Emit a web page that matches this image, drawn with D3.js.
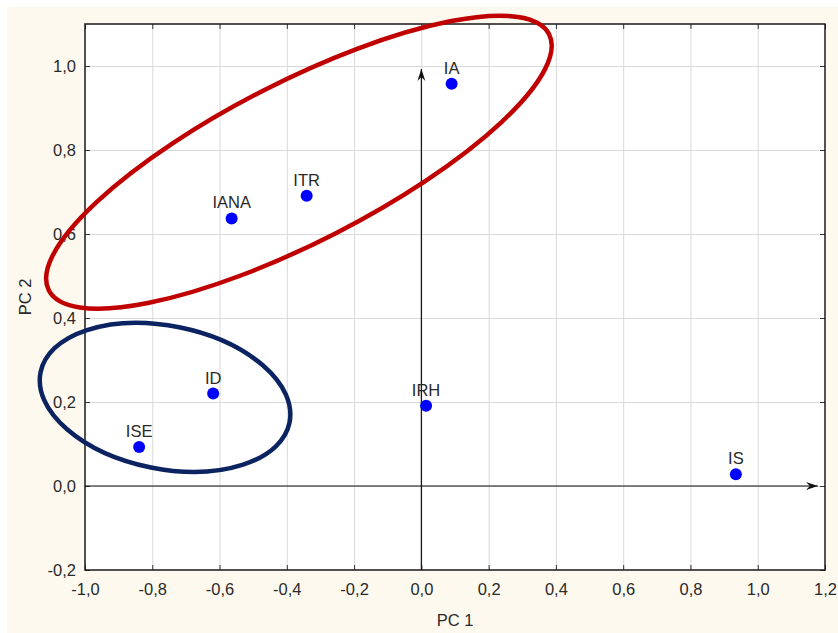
<!DOCTYPE html>
<html>
<head>
<meta charset="utf-8">
<script src="https://cdn.jsdelivr.net/npm/d3@7"></script>
<style>
  html, body { margin: 0; padding: 0; background: #ffffff; }
  svg { display: block; }
  text { font-family: "Liberation Sans", Arial, sans-serif; }
</style>
</head>
<body>
<svg id="chart" width="838" height="633"></svg>
<script>
// PCA loadings: variable names and their PC1 / PC2 coordinates
const variables = ["IA", "ITR", "IANA", "ID", "ISE", "IRH", "IS"];
const pc1 = [0.090, -0.341, -0.564, -0.619, -0.839, 0.014, 0.935];
const pc2 = [0.958, 0.691, 0.637, 0.220, 0.093, 0.191, 0.028];

const xTicks = [-1.0, -0.8, -0.6, -0.4, -0.2, 0.0, 0.2, 0.4, 0.6, 0.8, 1.0, 1.2];
const yTicks = [-0.2, 0.0, 0.2, 0.4, 0.6, 0.8, 1.0];

// Group outlines (centres in PC units)
const groupNames = ["upper", "lower"];
const groupPc1 = [-0.364, -0.762];
const groupPc2 = [0.771, 0.211];

const W = 838, H = 633;
const margin = { left: 85, right: 13, top: 24, bottom: 63 };
const fmt = v => d3.format(".1f")(v).replace("−", "-").replace(".", ",");
const textColor = "#2a2a2a";

const svg = d3.select("#chart");

// Cream page background with a thin white edge
svg.append("rect").attr("x", 0).attr("y", 0).attr("width", W).attr("height", H).attr("fill", "#ffffff");
svg.append("rect").attr("x", 7).attr("y", 7).attr("width", W - 7).attr("height", H - 7).attr("fill", "#fdf9ef");

const x = d3.scaleLinear().domain([-1.0, 1.2]).range([margin.left, W - margin.right]);
const y = d3.scaleLinear().domain([-0.2, 1.1]).range([H - margin.bottom, margin.top]);

const x0 = x.range()[0], x1 = x.range()[1];
const y0 = y.range()[0], y1 = y.range()[1];

// Plot area
svg.append("rect")
  .attr("x", x0).attr("y", y1).attr("width", x1 - x0).attr("height", y0 - y1)
  .attr("fill", "#ffffff");

// Grid
const grid = svg.append("g").attr("stroke", "#d9d9d9").attr("stroke-width", 1);
grid.selectAll("line.vx").data(xTicks.slice(1, -1)).join("line")
  .attr("x1", d => x(d) + 0.5).attr("x2", d => x(d) + 0.5)
  .attr("y1", y1).attr("y2", y0);
grid.selectAll("line.hy").data(yTicks.slice(1)).join("line")
  .attr("x1", x0).attr("x2", x1)
  .attr("y1", d => Math.round(y(d)) + 0.5).attr("y2", d => Math.round(y(d)) + 0.5);

// Axes with inward ticks and labels
const bottomAxis = d3.axisBottom(x).tickValues(xTicks).tickSize(-5).tickPadding(13).tickFormat(fmt);
const leftAxis = d3.axisLeft(y).tickValues(yTicks).tickSize(-5).tickPadding(9).tickFormat(fmt);
const topAxis = d3.axisTop(x).tickValues(xTicks).tickSize(-5).tickFormat("");
const rightAxis = d3.axisRight(y).tickValues(yTicks).tickSize(-5).tickFormat("");

function styleAxis(g) {
  g.select(".domain").remove();
  g.selectAll(".tick line").attr("stroke", "#333").attr("stroke-width", 1);
  g.selectAll(".tick text").attr("fill", textColor).attr("font-size", 16.5);
}
svg.append("g").attr("transform", `translate(0,${y0})`).call(bottomAxis).call(styleAxis);
svg.append("g").attr("transform", `translate(${x0},0)`).call(leftAxis).call(styleAxis);
svg.append("g").attr("transform", `translate(0,${y1})`).call(topAxis).call(styleAxis);
svg.append("g").attr("transform", `translate(${x1},0)`).call(rightAxis).call(styleAxis);

// Frame
svg.append("rect")
  .attr("x", x0).attr("y", y1).attr("width", x1 - x0).attr("height", y0 - y1)
  .attr("fill", "none").attr("stroke", "#1a1a1a").attr("stroke-width", 1.5);

// Axis titles
svg.append("text")
  .attr("x", (x0 + x1) / 2).attr("y", 626)
  .attr("text-anchor", "middle").attr("font-size", 16.5).attr("fill", textColor)
  .text("PC 1");
svg.append("text")
  .attr("transform", `translate(31,${(y0 + y1) / 2}) rotate(-90)`)
  .attr("text-anchor", "middle").attr("font-size", 16.5).attr("fill", textColor)
  .text("PC 2");

// Arrowhead marker
const defs = svg.append("defs");
defs.append("marker")
  .attr("id", "arrow").attr("viewBox", "-12 -5 14 10")
  .attr("refX", 0).attr("refY", 0)
  .attr("markerWidth", 14).attr("markerHeight", 10)
  .attr("markerUnits", "userSpaceOnUse")
  .attr("orient", "auto")
  .append("path").attr("d", "M0,0 L-12,-4 L-8,0 L-12,4 Z").attr("fill", "#111");

// Component axes through the origin
svg.append("line")
  .attr("x1", x(-1.0)).attr("y1", y(0)).attr("x2", x(1.179)).attr("y2", y(0))
  .attr("stroke", "#111").attr("stroke-width", 1.2).attr("marker-end", "url(#arrow)");
svg.append("line")
  .attr("x1", x(0)).attr("y1", y(-0.2)).attr("x2", x(0)).attr("y2", y(0.993))
  .attr("stroke", "#111").attr("stroke-width", 1.2).attr("marker-end", "url(#arrow)");

// Group outlines
const outlines = [
  { rx: 281, ry: 80, angle: -27.1, color: "#c00000" },
  { rx: 127, ry: 71.5, angle: 11.4, color: "#0b2461" }
];
svg.append("g").selectAll("ellipse").data(groupNames).join("ellipse")
  .attr("cx", 0).attr("cy", 0)
  .attr("rx", (d, i) => outlines[i].rx).attr("ry", (d, i) => outlines[i].ry)
  .attr("transform", (d, i) => `translate(${x(groupPc1[i])},${y(groupPc2[i])}) rotate(${outlines[i].angle})`)
  .attr("fill", "none")
  .attr("stroke", (d, i) => outlines[i].color)
  .attr("stroke-width", 4.5);

// Loadings
const pts = svg.append("g");
pts.selectAll("circle").data(variables).join("circle")
  .attr("cx", (d, i) => x(pc1[i])).attr("cy", (d, i) => y(pc2[i]))
  .attr("r", 6).attr("fill", "#0000ff");
pts.selectAll("text").data(variables).join("text")
  .attr("x", (d, i) => x(pc1[i])).attr("y", (d, i) => y(pc2[i]) - 10)
  .attr("text-anchor", "middle").attr("font-size", 16.5).attr("fill", textColor)
  .text(d => d);
</script>
</body>
</html>
